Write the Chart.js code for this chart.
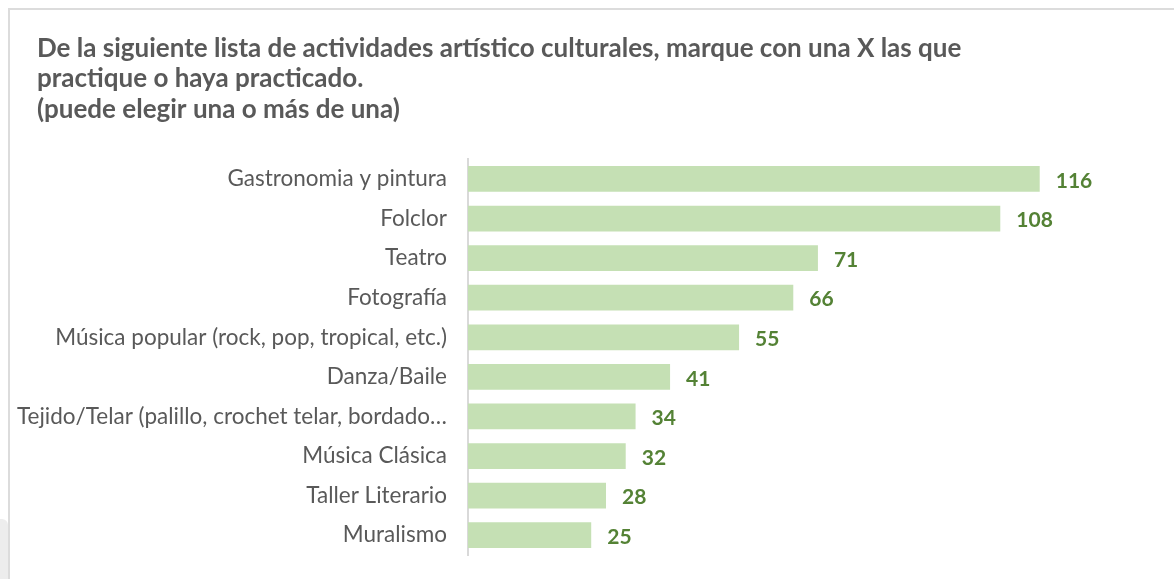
<!DOCTYPE html>
<html>
<head>
<meta charset="utf-8">
<script src="https://cdn.jsdelivr.net/npm/chart.js@4/dist/chart.umd.min.js"></script>
<style>
  html, body { margin: 0; padding: 0; background: #ffffff; }
  #wrap { position: relative; width: 1174px; height: 579px; overflow: hidden; }
  #frame { position: absolute; left: 8px; top: 8px; width: 1200px; height: 600px;
           border-top: 2px solid #DCDCDC; border-left: 2px solid #DCDCDC; }
  #patch { position: absolute; left: 0; top: 519px; width: 8px; height: 70px;
           background: #EDEDED; border-top-right-radius: 6px; }
  #c { position: absolute; left: 0; top: 0; }
</style>
</head>
<body>
<div id="wrap">
  <div id="frame"></div>
  <div id="patch"></div>
  <canvas id="c" width="1174" height="579"></canvas>
</div>
<script>
const titleLines = [
  "De la siguiente lista de actividades artístico culturales, marque con una X las que",
  "practique o haya practicado.",
  "(puede elegir una o más de una)"
];
const categories = [
  "Gastronomia y pintura",
  "Folclor",
  "Teatro",
  "Fotografía",
  "Música popular (rock, pop, tropical, etc.)",
  "Danza/Baile",
  "Tejido/Telar (palillo, crochet telar, bordado…",
  "Música Clásica",
  "Taller Literario",
  "Muralismo"
];
const values = [116, 108, 71, 66, 55, 41, 34, 32, 28, 25];

const valueLabels = {
  id: 'valueLabels',
  afterDatasetsDraw(chart) {
    const ctx = chart.ctx;
    const meta = chart.getDatasetMeta(0);
    ctx.save();
    ctx.fillStyle = '#548235';
    ctx.font = 'bold 21px Lato';
    ctx.textAlign = 'left';
    ctx.textBaseline = 'middle';
    meta.data.forEach((bar, i) => {
      ctx.fillText(String(values[i]), bar.x + 16, bar.y + 2);
    });
    ctx.restore();
  }
};

new Chart(document.getElementById('c'), {
  type: 'bar',
  data: {
    labels: categories,
    datasets: [{
      data: values,
      backgroundColor: '#C5E0B4',
      borderWidth: 0,
      categoryPercentage: 1,
      barPercentage: 0.65
    }]
  },
  options: {
    indexAxis: 'y',
    responsive: false,
    animation: false,
    layout: { padding: { left: 37, right: 16, top: 33, bottom: 24 } },
    plugins: {
      legend: { display: false },
      tooltip: { enabled: false },
      title: {
        display: true,
        text: titleLines,
        align: 'start',
        color: '#595959',
        font: { family: 'Lato', size: 26, weight: 'bold', lineHeight: 1.175 },
        padding: { top: 0, bottom: 34.5 }
      }
    },
    scales: {
      x: { display: false, min: 0, max: 140 },
      y: {
        grid: { display: false, drawTicks: false },
        border: { display: true, color: '#D9D9D9', width: 2 },
        ticks: { color: '#595959', font: { family: 'Lato', size: 22.5 }, padding: 21 },
        afterFit(scale) {
          scale.width = 431;
          scale.paddingTop = 0;
          scale.paddingBottom = 0;
          // let long category labels extend left of the axis box (no clipping)
          scale._computeLabelArea = function () { return undefined; };
        }
      }
    }
  },
  plugins: [valueLabels]
});
</script>
</body>
</html>
